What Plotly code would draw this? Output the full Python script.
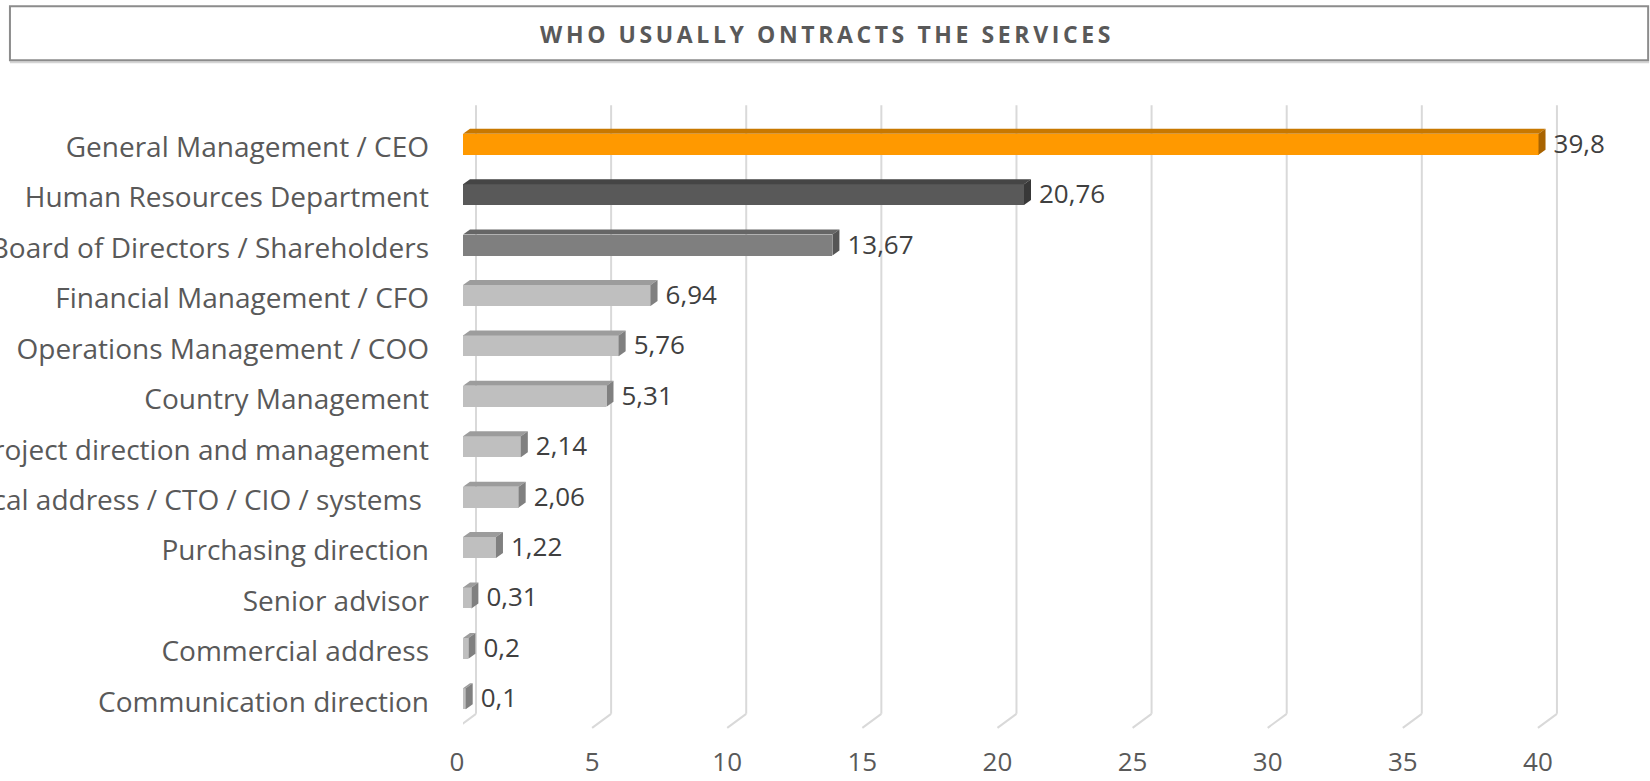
import plotly.graph_objects as go

# --- data -----------------------------------------------------------------
categories = [
    "General Management / CEO",
    "Human Resources Department",
    "Board of Directors / Shareholders",
    "Financial Management / CFO",
    "Operations Management / COO",
    "Country Management",
    "Project direction and management",
    "Technical address / CTO / CIO / systems\u00a0",
    "Purchasing direction",
    "Senior advisor",
    "Commercial address",
    "Communication direction",
]
values = [39.8, 20.76, 13.67, 6.94, 5.76, 5.31, 2.14, 2.06, 1.22, 0.31, 0.2, 0.1]
x_ticks = [0, 5, 10, 15, 20, 25, 30, 35, 40]
title_text = "WHO USUALLY ONTRACTS THE SERVICES"

# (front, top, side) face colours per bar
palette = {
    "orange": ("#FF9900", "#C87800", "#A86300"),
    "dark": ("#595959", "#454545", "#383838"),
    "mid": ("#7F7F7F", "#666666", "#555555"),
    "light": ("#BFBFBF", "#9C9C9C", "#808080"),
}
bar_styles = ["orange", "dark", "mid"] + ["light"] * 9

# --- layout geometry (pixels) ---------------------------------------------
W, H = 1650, 781
PLOT_L = 463
PX_PER_UNIT = 27.02
X_MAX = 43
PLOT_R = PLOT_L + X_MAX * PX_PER_UNIT
ROW_PX = 50.45
FIRST_ROW_PX = 144
PLOT_T = FIRST_ROW_PX - ROW_PX / 2
PLOT_B = PLOT_T + ROW_PX * len(categories)

DEPTH_X_PX, DEPTH_Y_PX = 7, 5          # 3-D extrusion of the bars
BAR_FACE_PX = 21                       # height of the bar front face
WALL_PX, FLOOR_PX = 13, -6             # back wall / front floor offsets
GRID_TOP, GRID_BACK_BOTTOM, GRID_FRONT = 105, 714, 728

ux = 1 / PX_PER_UNIT
uy = 1 / ROW_PX
dx = DEPTH_X_PX * ux
dy = DEPTH_Y_PX * uy
bw = BAR_FACE_PX * uy


def paper_y(py):
    return (PLOT_B - py) / (PLOT_B - PLOT_T)


def paper_x(px):
    return (px - PLOT_L) / (PLOT_R - PLOT_L)


FONT = "Open Sans"

fig = go.Figure()

# front faces
fig.add_trace(go.Bar(
    x=values,
    y=list(range(len(categories))),
    orientation="h",
    width=bw,
    marker=dict(color=[palette[s][0] for s in bar_styles], line=dict(width=0)),
    hoverinfo="skip",
    showlegend=False,
))

# top and side faces for the 3-D look
for i, (v, s) in enumerate(zip(values, bar_styles)):
    front, top, side = palette[s]
    y_top = i - bw / 2
    y_bot = i + bw / 2
    fig.add_trace(go.Scatter(
        x=[0, v, v + dx, dx, 0],
        y=[y_top, y_top, y_top - dy, y_top - dy, y_top],
        fill="toself", fillcolor=top, mode="lines", line=dict(width=0),
        hoverinfo="skip", showlegend=False,
    ))
    fig.add_trace(go.Scatter(
        x=[v, v + dx, v + dx, v, v],
        y=[y_top, y_top - dy, y_bot - dy, y_bot, y_top],
        fill="toself", fillcolor=side, mode="lines", line=dict(width=0),
        hoverinfo="skip", showlegend=False,
    ))

# value labels
fig.add_trace(go.Scatter(
    x=[v + dx + 8 * ux for v in values],
    y=[i + 2 * uy for i in range(len(values))],
    mode="text",
    text=[f"{v:g}".replace(".", ",") for v in values],
    textposition="middle right",
    textfont=dict(family=FONT, size=26, color="#404040"),
    hoverinfo="skip", showlegend=False, cliponaxis=False,
))

# gridlines: back wall verticals with a short floor segment towards the front
shapes = []
for t in x_ticks:
    xb = t + WALL_PX * ux
    xf = t + FLOOR_PX * ux
    shapes.append(dict(type="line", xref="x", yref="paper", x0=xb, x1=xb,
                       y0=paper_y(GRID_TOP), y1=paper_y(GRID_BACK_BOTTOM),
                       line=dict(color="#D9D9D9", width=2), layer="below"))
    shapes.append(dict(type="line", xref="x", yref="paper", x0=xb, x1=xf,
                       y0=paper_y(GRID_BACK_BOTTOM), y1=paper_y(GRID_FRONT),
                       line=dict(color="#D9D9D9", width=2), layer="below"))

# title frame
shapes.append(dict(type="line", xref="paper", yref="paper",
                   x0=paper_x(10), x1=paper_x(1649), y0=paper_y(62), y1=paper_y(62),
                   line=dict(color="#D4D4D4", width=2)))
shapes.append(dict(type="rect", xref="paper", yref="paper",
                   x0=paper_x(10), x1=paper_x(1648), y0=paper_y(60), y1=paper_y(6),
                   line=dict(color="#8C8C8C", width=2), fillcolor="rgba(0,0,0,0)"))

fig.update_layout(
    width=W, height=H,
    margin=dict(l=PLOT_L, r=W - PLOT_R, t=PLOT_T, b=H - PLOT_B, pad=0, autoexpand=False),
    paper_bgcolor="white", plot_bgcolor="white",
    shapes=shapes,
    title=dict(text=f"<b>{title_text}</b>", xref="container", yref="container",
               x=827 / W, y=1 - 35 / H, xanchor="center", yanchor="middle",
               automargin=False,
               font=dict(family=FONT, size=23, color="#595959")),
    xaxis=dict(range=[0, X_MAX], tickvals=x_ticks, showgrid=False, zeroline=False,
               showline=False, ticks="", ticklabelshift=FLOOR_PX,
               ticklabelstandoff=20, automargin=False,
               tickfont=dict(family=FONT, size=26, color="#595959"), fixedrange=True),
    yaxis=dict(range=[len(categories) - 0.5, -0.5], tickvals=list(range(len(categories))),
               ticktext=categories, showgrid=False, zeroline=False, showline=False,
               ticks="", ticklabelstandoff=33, ticklabelshift=-3, automargin=False,
               tickfont=dict(family=FONT, size=28, color="#595959"), fixedrange=True),
    bargap=0,
)

# tracked capitals in the heading
spacing_js = (
    "var t=document.querySelectorAll('.gtitle');"
    "for(var k=0;k<t.length;k++){t[k].style.letterSpacing='3.6px';}"
)

fig.write_html("out.html", post_script=spacing_js)
